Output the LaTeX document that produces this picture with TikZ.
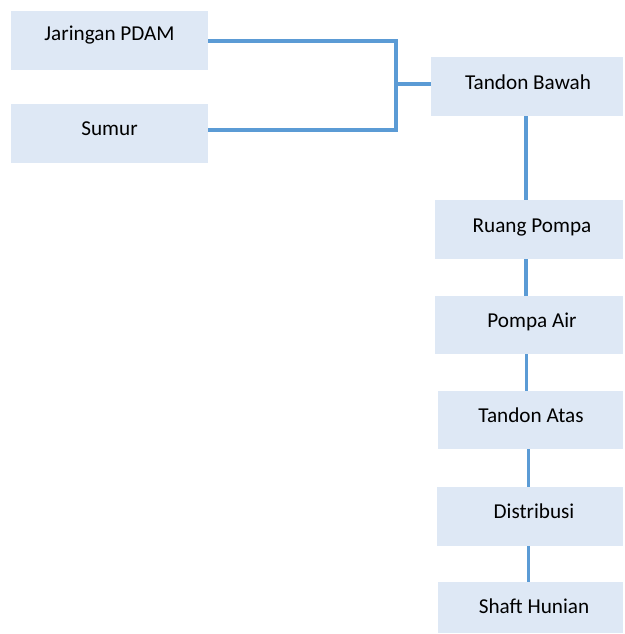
\documentclass[tikz,border=0pt]{standalone}
\usepackage{fontspec}
\setmainfont{Carlito}
\definecolor{boxfill}{HTML}{DEE8F5}
\definecolor{linecol}{HTML}{5B9BD5}
\begin{document}
\begin{tikzpicture}[x=1pt,y=-1pt,
  box/.style={fill=boxfill, draw=none, inner sep=0pt, outer sep=0pt, rectangle},
  lbl/.style={anchor=base, inner sep=0pt, font=\fontsize{21.2}{25}\selectfont, text=black},
  conn/.style={draw=linecol, line width=3.6pt}]
\useasboundingbox (0,0) rectangle (624,634);
% boxes
\node[box, minimum width=197pt, minimum height=59pt] (jp) at (109.5,40.5) {};
\node[box, minimum width=197pt, minimum height=59pt] (sm) at (109.5,133.5) {};
\node[box, minimum width=192pt, minimum height=59pt] (tb) at (527,86.5) {};
\node[box, minimum width=188pt, minimum height=59pt] (rp) at (529,229.5) {};
\node[box, minimum width=188pt, minimum height=58pt] (pa) at (529,325) {};
\node[box, minimum width=185pt, minimum height=58pt] (ta) at (530.5,420) {};
\node[box, minimum width=186pt, minimum height=59pt] (ds) at (530,516.5) {};
\node[box, minimum width=185pt, minimum height=51pt] (sh) at (530.5,607.5) {};
% labels
\node[lbl] (tjp) at (109.5,41) {Jaringan PDAM};
\node[lbl] (tsm) at (109.5,135) {Sumur};
\node[lbl] (ttb) at (528,89) {Tandon Bawah};
\node[lbl] (trp) at (532,232) {Ruang Pompa};
\node[lbl] (tpa) at (532,327) {Pompa Air};
\node[lbl] (tta) at (531,422) {Tandon Atas};
\node[lbl] (tds) at (534,518) {Distribusi};
\node[lbl] (tsh) at (534,613) {Shaft Hunian};
% connectors
\coordinate (jn) at (396,84);
\draw[conn] ([yshift=-0.5pt]jp.east) -| (jn) |- ([yshift=3.5pt]sm.east);
\draw[conn] (jn) -- (tb.west |- jn);
\draw[conn] ([xshift=-1pt]tb.south) -- ([xshift=-3pt]rp.north);
\draw[conn] ([xshift=-3pt]rp.south) -- ([xshift=-3pt]pa.north);
\draw[conn] ([xshift=-2.5pt]pa.south) -- ([xshift=-4pt]ta.north);
\draw[conn] ([xshift=-2pt]ta.south) -- ([xshift=-1.5pt]ds.north);
\draw[conn] ([xshift=-1.5pt]ds.south) -- ([xshift=-2pt]sh.north);
\end{tikzpicture}
\end{document}
